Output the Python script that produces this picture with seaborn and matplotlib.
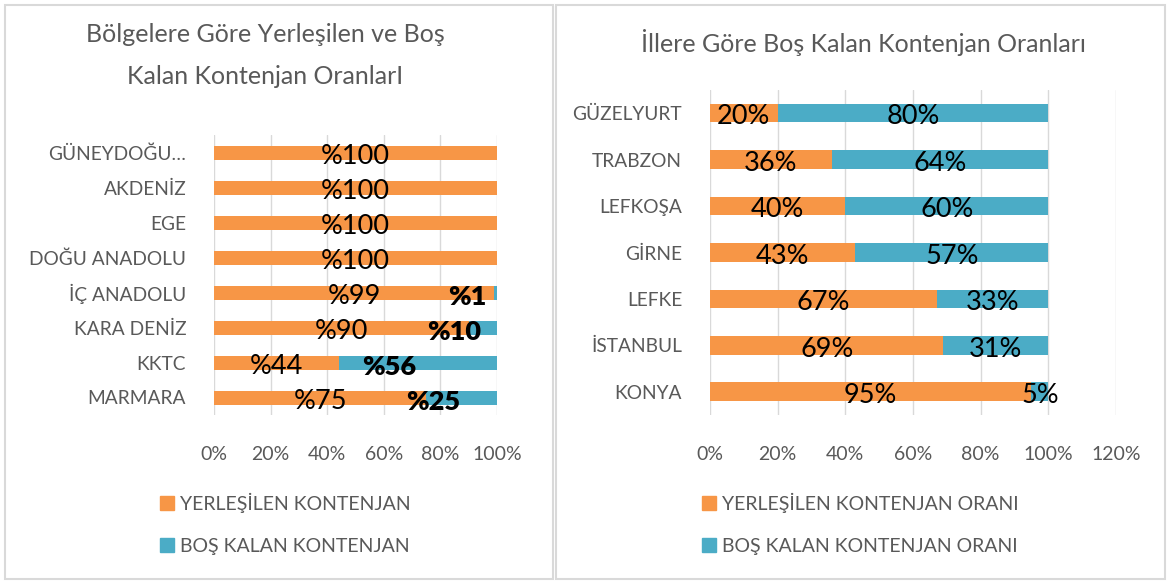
import matplotlib.pyplot as plt
import seaborn as sns
import pandas as pd
from matplotlib.patches import Patch, Rectangle

# --- data ---
bolgeler = ['GÜNEYDOĞU…', 'AKDENİZ', 'EGE', 'DOĞU ANADOLU', 'İÇ ANADOLU',
            'KARA DENİZ', 'KKTC', 'MARMARA']
bolge_yerlesilen = [100, 100, 100, 100, 99, 90, 44, 75]
bolge_bos = [0, 0, 0, 0, 1, 10, 56, 25]

iller = ['GÜZELYURT', 'TRABZON', 'LEFKOŞA', 'GİRNE', 'LEFKE', 'İSTANBUL', 'KONYA']
il_yerlesilen = [20, 36, 40, 43, 67, 69, 95]
il_bos = [80, 64, 60, 57, 33, 31, 5]

left_ticks = [0, 20, 40, 60, 80, 100]
right_ticks = [0, 20, 40, 60, 80, 100, 120]

ORANGE = '#F79646'
BLUE = '#4BACC6'
GRAY = '#595959'
GRID = '#D9D9D9'

sns.set_theme(style='white')
plt.rcParams['font.family'] = ['Lato', 'DejaVu Sans']

W, H = 1168, 583
fig = plt.figure(figsize=(W / 100, H / 100), dpi=100)

# panel frames
fig.patches.append(Rectangle((5 / W, 4 / H), 548 / W, 574 / H, transform=fig.transFigure,
                             fill=False, edgecolor=GRID, linewidth=1.5))
fig.patches.append(Rectangle((556 / W, 4 / H), 609 / W, 574 / H, transform=fig.transFigure,
                             fill=False, edgecolor=GRID, linewidth=1.5))


def stacked(ax, cats, a, b, xmax, ticks):
    df = pd.DataFrame({'cat': cats, 'a': a, 'b': b})
    df['total'] = df['a'] + df['b']
    sns.barplot(data=df, x='total', y='cat', order=cats, color=BLUE, orient='h',
                width=0.4, linewidth=0, saturation=1, ax=ax)
    sns.barplot(data=df, x='a', y='cat', order=cats, color=ORANGE, orient='h',
                width=0.4, linewidth=0, saturation=1, ax=ax)
    ax.set_xlim(0, xmax)
    ax.set_ylim(len(cats) - 0.5, -0.5)
    ax.set_xticks(ticks)
    ax.set_xticklabels([f'{t}%' for t in ticks])
    ax.set_xlabel('')
    ax.set_ylabel('')
    ax.grid(axis='x', color=GRID, linewidth=1)
    ax.set_axisbelow(True)
    sns.despine(ax=ax, left=True, bottom=True)
    ax.tick_params(axis='x', length=0, pad=22, labelsize=14, labelcolor=GRAY)
    ax.tick_params(axis='y', length=0, pad=20, labelsize=13.8, labelcolor=GRAY)
    return df


# left chart
ax1 = fig.add_axes([214 / W, 1 - 415 / H, 283 / W, 280 / H])
df1 = stacked(ax1, bolgeler, bolge_yerlesilen, bolge_bos, 100, left_ticks)
for i, r in df1.iterrows():
    ax1.text(r['a'] / 2, i + 0.12, f"%{r['a']}", ha='center', va='center',
             fontsize=19.5, color='black')
    if r['b'] > 0:
        ax1.text(r['a'] + r['b'] / 2 - 10, i + 0.12, f"%{r['b']}", ha='center',
                 va='center', fontsize=19.5, fontweight='heavy', color='black')

fig.text(265 / W, 1 - 34 / H, 'Bölgelere Göre Yerleşilen ve Boş', ha='center',
         va='center', fontsize=18, color=GRAY)
fig.text(265 / W, 1 - 77 / H, 'Kalan Kontenjan OranlarI', ha='center',
         va='center', fontsize=18, color=GRAY)

h1 = [Patch(color=ORANGE, label='YERLEŞİLEN KONTENJAN'),
      Patch(color=BLUE, label='BOŞ KALAN KONTENJAN')]
fig.legend(handles=h1, loc='upper left', bbox_to_anchor=(142 / W, 1 - 475 / H),
           frameon=False, fontsize=14, labelcolor=GRAY, handlelength=0.75,
           handleheight=0.75, handletextpad=0.3, labelspacing=1.3)

# right chart
ax2 = fig.add_axes([710 / W, 1 - 415 / H, 406 / W, 325 / H])
df2 = stacked(ax2, iller, il_yerlesilen, il_bos, 120, right_ticks)
for i, r in df2.iterrows():
    ax2.text(r['a'] / 2, i + 0.08, f"{r['a']}%", ha='center', va='center',
             fontsize=19.5, color='black')
    ax2.text(r['a'] + r['b'] / 2, i + 0.08, f"{r['b']}%", ha='center',
             va='center', fontsize=19.5, color='black')

fig.text(863 / W, 1 - 43 / H, 'İllere Göre Boş Kalan Kontenjan Oranları', ha='center',
         va='center', fontsize=18, color=GRAY)

h2 = [Patch(color=ORANGE, label='YERLEŞİLEN KONTENJAN ORANI'),
      Patch(color=BLUE, label='BOŞ KALAN KONTENJAN ORANI')]
fig.legend(handles=h2, loc='upper left', bbox_to_anchor=(684 / W, 1 - 475 / H),
           frameon=False, fontsize=14, labelcolor=GRAY, handlelength=0.75,
           handleheight=0.75, handletextpad=0.3, labelspacing=1.3)

fig.savefig('out.png', dpi=100)
